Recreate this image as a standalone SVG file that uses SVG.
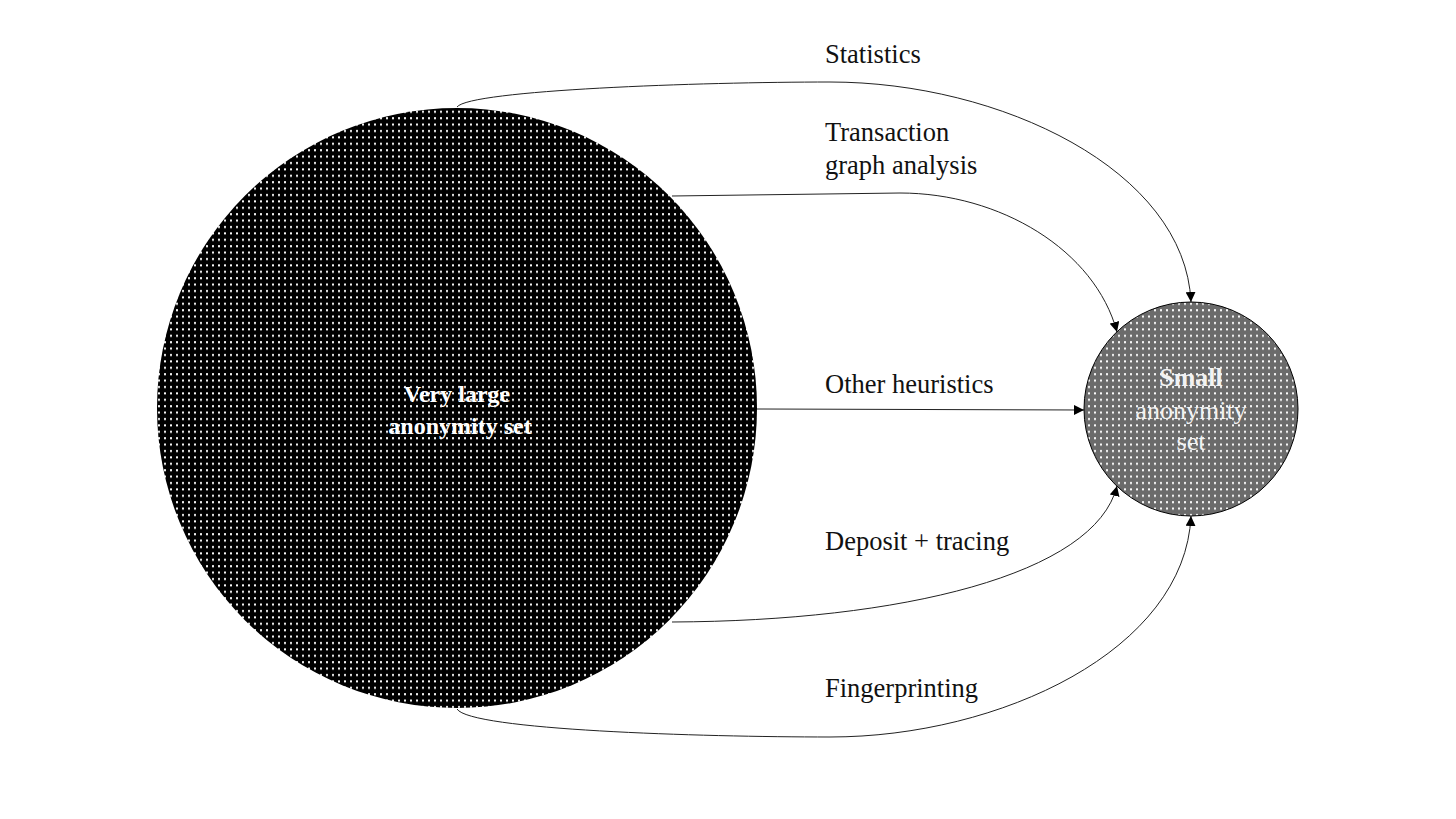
<svg xmlns="http://www.w3.org/2000/svg" width="1456" height="819" viewBox="0 0 1456 819">
<style>
.lbl{font-family:"Liberation Serif",serif;font-size:26.5px;fill:#111}
.in{font-family:"Liberation Serif",serif;font-size:24px;fill:#fff;text-anchor:middle}
.s{font-size:26px;fill:#f2f2f2}
.b{font-weight:bold}
.con{fill:none;stroke:#222;stroke-width:1}
</style>
<defs>
<pattern id="dotsB" width="6" height="6.4" patternUnits="userSpaceOnUse">
<rect width="6" height="6.4" fill="#000"/>
<rect x="2" y="2" width="2" height="2" fill="#fff"/>
</pattern>
<pattern id="dotsG" width="6" height="6.4" patternUnits="userSpaceOnUse">
<rect width="6" height="6.4" fill="#6b6b6b"/>
<rect x="2" y="2" width="2" height="2" fill="#fff"/>
</pattern>
<marker id="arr" viewBox="0 0 10 10" refX="10" refY="5" markerWidth="10" markerHeight="10" markerUnits="userSpaceOnUse" orient="auto">
<path d="M0,0 L10,5 L0,10 Z" fill="#000"/>
</marker>
</defs>
<rect width="1456" height="819" fill="#fff"/>
<g id="connectors">
<path class="con" marker-end="url(#arr)" d="M457,107 C470,90 700,82 830,82 C1000,82 1185,170 1191,302"/>
<path class="con" marker-end="url(#arr)" d="M672,196 L900,193 C1000,193 1095,250 1117,332"/>
<path class="con" marker-end="url(#arr)" d="M757,409 L1084,410"/>
<path class="con" marker-end="url(#arr)" d="M672,622 C900,621 1095,575 1117,486"/>
<path class="con" marker-end="url(#arr)" d="M457,709 C470,730 700,737 830,737 C1000,737 1185,650 1191,516"/>
</g>
<g id="big">
<circle cx="457" cy="408" r="300" fill="url(#dotsB)"/>
<text class="in b" x="457" y="402">Very large</text>
<text class="in b" x="460" y="434">anonymity set</text>
</g>
<g id="small">
<circle cx="1191" cy="409" r="107" fill="url(#dotsG)" stroke="#000" stroke-width="1"/>
<text class="in s b" x="1191" y="386">Small</text>
<text class="in s" x="1191" y="419">anonymity</text>
<text class="in s" x="1191" y="450">set</text>
</g>
<g id="labels">
<text class="lbl" x="825" y="63">Statistics</text>
<text class="lbl" x="825" y="141">Transaction</text>
<text class="lbl" x="825" y="174">graph analysis</text>
<text class="lbl" x="825" y="393">Other heuristics</text>
<text class="lbl" x="825" y="550">Deposit + tracing</text>
<text class="lbl" x="825" y="697">Fingerprinting</text>
</g>
</svg>
